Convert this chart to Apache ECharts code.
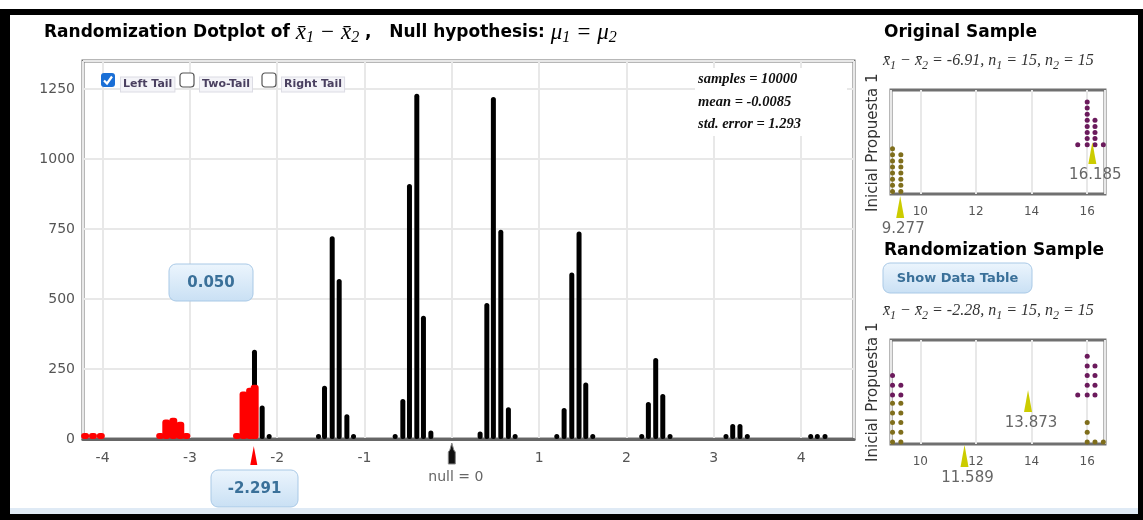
<!DOCTYPE html>
<html>
<head>
<meta charset="utf-8">
<script src="https://cdn.jsdelivr.net/npm/echarts@6/dist/echarts.min.js"></script>
<style>
  html, body { margin: 0; padding: 0; background: #fff; }
  #chart { width: 1143px; height: 520px; }
</style>
</head>
<body>
<div id="chart"></div>
<script>
// randomization dotplot: [difference in means, dots stacked in that column]
var tailCols = [
  [-4.20, 10], [-4.11, 10], [-4.02, 10],
  [-3.34, 12], [-3.27, 70], [-3.19, 76], [-3.11, 62], [-3.04, 12],
  [-2.46, 14], [-2.385, 170], [-2.31, 183], [-2.258, 194]
];
var restCols = [
  [-2.26, 319], [-2.172, 120], [-2.092, 15],
  [-1.527, 12], [-1.458, 190], [-1.37, 724], [-1.29, 571], [-1.202, 88], [-1.126, 10],
  [-0.649, 8], [-0.561, 143], [-0.485, 911], [-0.401, 1233], [-0.325, 440], [-0.24, 30],
  [0.324, 27], [0.401, 486], [0.476, 1221], [0.561, 747], [0.648, 113], [0.725, 8],
  [1.202, 10], [1.286, 111], [1.374, 595], [1.457, 741], [1.534, 202], [1.614, 18],
  [2.175, 12], [2.251, 132], [2.335, 289], [2.416, 161], [2.499, 10],
  [3.14, 12], [3.217, 54], [3.30, 54], [3.384, 10],
  [4.11, 10], [4.186, 15], [4.274, 10]
];
var tailCut = -2.291;
var nullValue = 0;
var tailProportion = '0.050';
var statLines = ['samples = 10000', 'mean = -0.0085', 'std. error = 1.293'];
var tailOptions = ['Left Tail', 'Two-Tail', 'Right Tail'];

// original sample (olive = Inicial, purple = Propuesta 1)
var origInicial = [9.0, 9.0, 9.0, 9.0, 9.0, 9.0, 9.0, 9.0, 9.3, 9.3, 9.3, 9.3, 9.3, 9.3, 9.3];
var origPropuesta = [15.66, 16.0, 16.0, 16.0, 16.0, 16.0, 16.0, 16.0, 16.0, 16.28, 16.28, 16.28, 16.28, 16.28, 16.58];
var origMeans = [9.277, 16.185];
// one randomization sample
var randInicial = [9.0, 9.0, 9.0, 9.0, 9.0, 9.3, 9.3, 9.3, 9.3, 9.3, 16.0, 16.0, 16.0, 16.28, 16.58];
var randPropuesta = [9.0, 9.0, 9.0, 9.3, 9.3, 15.66, 16.0, 16.0, 16.0, 16.0, 16.0, 16.28, 16.28, 16.28, 16.28];
var randMeans = [11.589, 13.873];
var groupNames = ['Inicial', 'Propuesta 1'];

var SANS = 'DejaVu Sans';
var SERIF = 'Liberation Serif';
var OLIVE = '#7f6e1c';
var PURPLE = '#6b1a5c';
var GRIDLINE = '#e8e8e8';

// stack repeated values into columns of dots
function stackDots(values, base, step) {
  var seen = {};
  return values.map(function (v) {
    var k = seen[v] || 0;
    seen[v] = k + 1;
    return [v, base + k * step];
  });
}

function columnItem(width, color, minH) {
  return function (params, api) {
    var top = api.coord([api.value(0), api.value(1)]);
    var base = api.coord([api.value(0), 0]);
    var h = Math.max(base[1] - top[1], minH);
    return {
      type: 'rect',
      shape: { x: top[0] - width / 2, y: base[1] - h, width: width, height: h, r: Math.min(width / 2, 3) },
      style: { fill: color }
    };
  };
}

function meanMarker(params, api) {
  var p = api.coord([api.value(0), api.value(1)]);
  return {
    type: 'group',
    children: [
      { type: 'polygon', shape: { points: [[p[0], p[1]], [p[0] - 4, p[1] + 22], [p[0] + 4, p[1] + 22]] },
        style: { fill: '#cccc00' } },
      { type: 'text', x: p[0] + 3, y: p[1] + 33,
        style: { text: api.value(0).toFixed(3), font: '15px "' + SANS + '"', fill: '#666',
                 align: 'center', verticalAlign: 'middle' } }
    ]
  };
}

function mainMarker(params, api) {
  var v = api.value(0);
  var p = api.coord([v, 0]);
  if (params.dataIndex === 0) {
    return { type: 'polygon', shape: { points: [[p[0] + 2, p[1] + 7], [p[0] - 1.5, p[1] + 26], [p[0] + 5.5, p[1] + 26]] },
             style: { fill: '#ff0000' } };
  }
  return {
    type: 'group',
    children: [
      { type: 'polygon', shape: { points: [[p[0], p[1] + 4], [p[0] + 2, p[1] + 11], [p[0] + 3.5, p[1] + 13],
          [p[0] + 3.5, p[1] + 25], [p[0] - 3.5, p[1] + 25], [p[0] - 3.5, p[1] + 13], [p[0] - 2, p[1] + 11]] },
        style: { fill: '#111', stroke: '#888', lineWidth: 1 } },
      { type: 'text', x: p[0] + 4, y: p[1] + 38,
        style: { text: 'null = ' + v, font: '14px "' + SANS + '"', fill: '#666', align: 'center', verticalAlign: 'middle' } }
    ]
  };
}

function sideX(idx) {
  return {
    type: 'value', gridIndex: idx, min: 8.946, max: 16.64, minInterval: 2, maxInterval: 2,
    axisLine: { show: false }, axisTick: { show: false },
    axisLabel: { fontFamily: SANS, fontSize: 12, color: '#555', margin: 12, showMinLabel: false, showMaxLabel: false,
      formatter: function (v) { return (Number.isInteger(v) && v % 2 === 0) ? String(v) : ''; } },
    splitLine: { lineStyle: { color: GRIDLINE, width: 2 } }
  };
}
function sideY(idx) {
  return { type: 'value', gridIndex: idx, min: 0, max: 104, show: false, splitLine: { show: false } };
}

function button(x, y, w, h, label, size) {
  return {
    type: 'group', x: x, y: y,
    children: [
      { type: 'rect', z: 20, shape: { x: 0, y: 0, width: w, height: h, r: 7 },
        style: { fill: new echarts.graphic.LinearGradient(0, 0, 0, 1, [
          { offset: 0, color: '#ecf5fd' }, { offset: 1, color: '#c9e0f4' }]), stroke: '#a9c9e6', lineWidth: 1 } },
      { type: 'text', z: 21, x: w / 2, y: h / 2 + 1,
        style: { text: label, font: 'bold ' + size + 'px "' + SANS + '"', fill: '#3a7099', align: 'center', verticalAlign: 'middle' } }
    ]
  };
}

function subtitle(x, y, diff) {
  return {
    type: 'text', x: x, y: y, z: 20,
    style: {
      text: '{i|x\u0304}{s|1}{i| \u2212 x\u0304}{s|2}{i| = ' + diff + ', n}{s|1}{i| = 15, n}{s|2}{i| = 15}',
      verticalAlign: 'middle', fill: '#333',
      rich: {
        i: { fontFamily: SERIF, fontStyle: 'italic', fontSize: 16, lineHeight: 21, fill: '#333' },
        s: { fontFamily: SERIF, fontStyle: 'italic', fontSize: 12, lineHeight: 13, verticalAlign: 'bottom', fill: '#333' }
      }
    }
  };
}

function rotLabel(x, y, text) {
  return { type: 'text', x: x, y: y, rotation: Math.PI / 2, z: 20,
    style: { text: text, font: '15px "' + SANS + '"', fill: '#333', align: 'center', verticalAlign: 'middle' } };
}

function checkbox(x, y, checked) {
  if (checked) {
    return { type: 'group', x: x, y: y, children: [
      { type: 'rect', z: 20, shape: { x: 0, y: 0, width: 14, height: 14, r: 3 }, style: { fill: '#1a6fd6' } },
      { type: 'polyline', z: 21, shape: { points: [[3, 7.5], [6, 10.5], [11, 3.5]] }, style: { stroke: '#fff', lineWidth: 2.2, fill: null } }
    ] };
  }
  return { type: 'rect', x: x, y: y, z: 20, shape: { x: 0, y: 0, width: 14, height: 14, r: 3 },
    style: { fill: '#fff', stroke: '#555', lineWidth: 1.2 } };
}

function tailLabel(x, text) {
  return { type: 'text', x: x, y: 84.5, z: 20,
    style: { text: text, font: 'bold 11px "' + SANS + '"', fill: '#4a4060', verticalAlign: 'middle',
      backgroundColor: '#f4f4f8', borderColor: '#dcdce4', borderWidth: 1, padding: [2, 2, 1, 2] } };
}

var statFont = 'italic bold 14.5px "' + SERIF + '"';

var graphics = [
  // page frame
  { type: 'rect', z: 30, shape: { x: 0, y: 9, width: 1143, height: 6 }, style: { fill: '#000' } },
  { type: 'rect', z: 30, shape: { x: 0, y: 9, width: 10, height: 511 }, style: { fill: '#000' } },
  { type: 'rect', z: 30, shape: { x: 1138, y: 9, width: 5, height: 511 }, style: { fill: '#000' } },
  { type: 'rect', z: 30, shape: { x: 10, y: 508, width: 1128, height: 6 }, style: { fill: '#dfeaf5' } },
  { type: 'rect', z: 30, shape: { x: 0, y: 514, width: 1143, height: 6 }, style: { fill: '#000' } },
  // title
  { type: 'text', x: 44, y: 33, z: 20,
    style: {
      text: 'Randomization Dotplot of {m|x\u0304}{s|1}{m| \u2212 x\u0304}{s|2} ,   Null hypothesis: {m|\u03bc}{s|1}{m| = \u03bc}{s|2}',
      font: 'bold 17px "' + SANS + '"', fill: '#000', verticalAlign: 'middle',
      rich: {
        m: { fontFamily: SERIF, fontStyle: 'italic', fontWeight: 'normal', fontSize: 23, lineHeight: 26, fill: '#000' },
        s: { fontFamily: SERIF, fontStyle: 'italic', fontWeight: 'normal', fontSize: 16, lineHeight: 15, verticalAlign: 'bottom', fill: '#000' }
      }
    } },
  // tail choice
  checkbox(101, 73, true), tailLabel(121, tailOptions[0]),
  checkbox(180, 73, false), tailLabel(200, tailOptions[1]),
  checkbox(262, 73, false), tailLabel(282, tailOptions[2]),
  // stats box
  { type: 'rect', z: 15, shape: { x: 695, y: 68, width: 152, height: 68 }, style: { fill: '#fff' } },
  { type: 'text', x: 698, y: 79, z: 20, style: { text: statLines[0], font: statFont, fill: '#111', verticalAlign: 'middle' } },
  { type: 'text', x: 698, y: 102, z: 20, style: { text: statLines[1], font: statFont, fill: '#111', verticalAlign: 'middle' } },
  { type: 'text', x: 698, y: 124, z: 20, style: { text: statLines[2], font: statFont, fill: '#111', verticalAlign: 'middle' } },
  button(169, 264, 84, 37, tailProportion, 15),
  button(211, 470, 87, 37, String(tailCut), 15),
  // right panels
  { type: 'text', x: 884, y: 33, z: 20, style: { text: 'Original Sample', font: 'bold 17px "' + SANS + '"', fill: '#000', verticalAlign: 'middle' } },
  subtitle(883, 61, '-6.91'),
  rotLabel(873, 190, groupNames[0]), rotLabel(873, 118, groupNames[1]),
  { type: 'text', x: 884, y: 251, z: 20, style: { text: 'Randomization Sample', font: 'bold 17px "' + SANS + '"', fill: '#000', verticalAlign: 'middle' } },
  button(883, 263, 149, 30, 'Show Data Table', 13),
  subtitle(883, 311, '-2.28'),
  rotLabel(873, 440, groupNames[0]), rotLabel(873, 367, groupNames[1])
];

var chart = echarts.init(document.getElementById('chart'));
chart.setOption({
  animation: false,
  grid: [
    { left: 83, top: 61, width: 771, height: 378, show: true, borderColor: '#707070', borderWidth: 3 },
    { left: 891, top: 90, width: 214, height: 104, show: true, borderColor: '#707070', borderWidth: 3 },
    { left: 891, top: 340, width: 214, height: 104, show: true, borderColor: '#707070', borderWidth: 3 }
  ],
  xAxis: [
    { type: 'value', gridIndex: 0, min: -4.224, max: 4.606, minInterval: 1, maxInterval: 1,
      axisLine: { show: true, onZero: false, lineStyle: { color: '#666', width: 3 } },
      axisTick: { show: false },
      axisLabel: { fontFamily: SANS, fontSize: 14, color: '#555', margin: 12, showMinLabel: false, showMaxLabel: false,
        formatter: function (v) { return Number.isInteger(v) ? String(v) : ''; } },
      splitLine: { lineStyle: { color: GRIDLINE, width: 2 } } },
    sideX(1), sideX(2)
  ],
  yAxis: [
    { type: 'value', gridIndex: 0, min: 0, max: 1350, minInterval: 250, maxInterval: 250,
      axisLine: { show: false }, axisTick: { show: false },
      axisLabel: { fontFamily: SANS, fontSize: 14, color: '#555', margin: 8, showMaxLabel: false,
        formatter: function (v) { return v % 250 === 0 ? String(v) : ''; } },
      splitLine: { lineStyle: { color: GRIDLINE, width: 2 } } },
    sideY(1), sideY(2)
  ],
  series: [
    { type: 'custom', name: 'rest', xAxisIndex: 0, yAxisIndex: 0, data: restCols,
      renderItem: columnItem(5, '#000', 5), z: 3 },
    { type: 'custom', name: 'tail', xAxisIndex: 0, yAxisIndex: 0, data: tailCols,
      renderItem: columnItem(8, '#ff0000', 6), z: 4 },
    { type: 'custom', name: 'markers', xAxisIndex: 0, yAxisIndex: 0, data: [[tailCut], [nullValue]],
      renderItem: mainMarker, z: 5 },
    { type: 'scatter', xAxisIndex: 1, yAxisIndex: 1, data: stackDots(origInicial, 2.6, 6.1),
      symbolSize: 5, itemStyle: { color: OLIVE, opacity: 1 }, clip: false, silent: true },
    { type: 'scatter', xAxisIndex: 1, yAxisIndex: 1, data: stackDots(origPropuesta, 49.3, 6.1),
      symbolSize: 5, itemStyle: { color: PURPLE, opacity: 1 }, clip: false, silent: true },
    { type: 'custom', xAxisIndex: 1, yAxisIndex: 1, data: [[origMeans[0], -2], [origMeans[1], 52]],
      renderItem: meanMarker, z: 5 },
    { type: 'scatter', xAxisIndex: 2, yAxisIndex: 2, data: stackDots(randInicial, 2, 9.7),
      symbolSize: 5, itemStyle: { color: OLIVE, opacity: 1 }, clip: false, silent: true },
    { type: 'scatter', xAxisIndex: 2, yAxisIndex: 2, data: stackDots(randPropuesta, 49, 9.7),
      symbolSize: 5, itemStyle: { color: PURPLE, opacity: 1 }, clip: false, silent: true },
    { type: 'custom', xAxisIndex: 2, yAxisIndex: 2, data: [[randMeans[0], -1], [randMeans[1], 54]],
      renderItem: meanMarker, z: 5 }
  ],
  graphic: graphics
});
</script>
</body>
</html>
